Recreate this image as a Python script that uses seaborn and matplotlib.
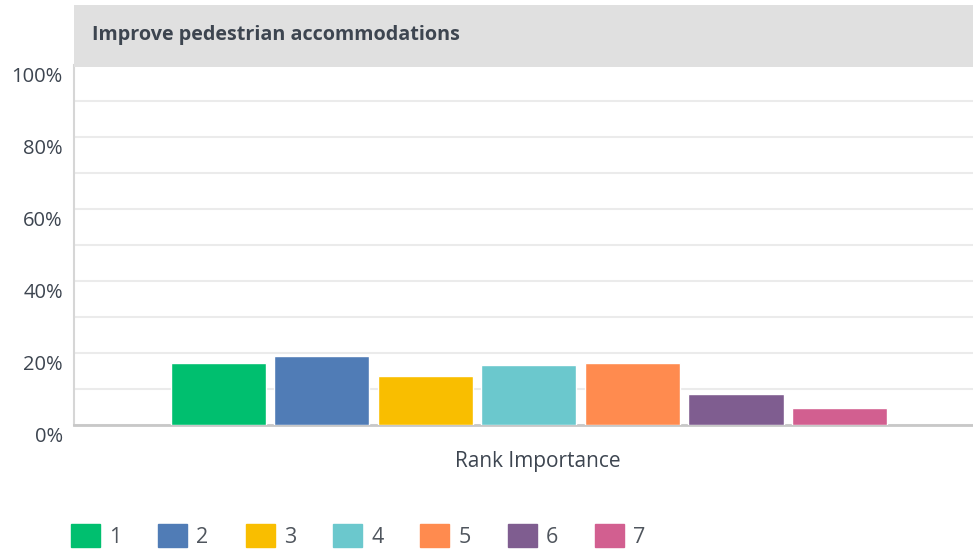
import matplotlib
matplotlib.use("Agg")
import matplotlib.pyplot as plt
import matplotlib.transforms as mtransforms
from matplotlib.patches import Patch, Rectangle
from matplotlib.ticker import MultipleLocator, FuncFormatter
import pandas as pd
import seaborn as sns

# ── Data ─────────────────────────────────────────────────────────────────────
title = "Improve pedestrian accommodations"
x_label = "Rank Importance"
ranks = ["1", "2", "3", "4", "5", "6", "7"]
shares = [17.2, 19.2, 13.6, 16.7, 17.2, 8.6, 4.7]
colors = ["#00BF6F", "#507CB6", "#F9BE00", "#6BC8CD", "#FF8B4F", "#7F5D90", "#D25F90"]
y_ticks = [0, 20, 40, 60, 80, 100]

df = pd.DataFrame({"group": [x_label] * len(ranks), "rank": ranks, "share": shares})

sns.set_theme(style="white")
plt.rcParams["font.family"] = ["Open Sans", "DejaVu Sans"]
text_col = "#3d4550"

W, H = 973, 552
fig = plt.figure(figsize=(W / 100, H / 100), dpi=100)
ax = fig.add_axes([74 / W, 1 - 425 / H, (973 - 74) / W, (425 - 65) / H])

sns.barplot(data=df, x="group", y="share", hue="rank", hue_order=ranks,
            palette=colors, width=0.806, gap=0.082, saturation=1,
            legend=False, ax=ax, zorder=3)

# group sits a few pixels right of the axes centre in the reference
ax.set_xlim(-0.5061, 0.4939)
ax.set_ylim(0, 100)
ax.set_yticks(y_ticks)
ax.yaxis.set_minor_locator(MultipleLocator(10))
ax.yaxis.set_major_formatter(FuncFormatter(lambda v, p: f"{v:.0f}%"))
ax.grid(axis="y", which="both", color="#ebebeb", linewidth=1.5, zorder=0)
ax.set_axisbelow(True)
ax.set_xticks([])
ax.set_xlabel("")
ax.set_ylabel("")
ax.tick_params(axis="y", which="both", length=0, pad=8, labelsize=14.5, labelcolor=text_col)
off = mtransforms.ScaledTranslation(0, -0.09, fig.dpi_scale_trans)
for lab in ax.get_yticklabels():
    lab.set_transform(lab.get_transform() + off)

for s in ["top", "right"]:
    ax.spines[s].set_visible(False)
ax.spines["left"].set_color("#d6d6d6")
ax.spines["left"].set_linewidth(1.5)
ax.spines["bottom"].set_color("#c8c8c8")
ax.spines["bottom"].set_linewidth(2)

# header band with title
fig.patches.append(Rectangle((74 / W, 1 - 67 / H), (973 - 74) / W, 62 / H,
                             transform=fig.transFigure, facecolor="#e0e0e0",
                             edgecolor="none", zorder=3))
fig.text(92 / W, 1 - 35 / H, title, fontsize=14.2, fontweight="bold",
         color=text_col, va="center", ha="left", zorder=4)

fig.text(538 / W, 1 - 462 / H, x_label, fontsize=15, color=text_col,
         ha="center", va="center")

handles = [Patch(facecolor=c, edgecolor=c, linewidth=1, joinstyle="round") for c in colors]
fig.legend(handles, ranks, loc="center left", bbox_to_anchor=(71 / W, 1 - 536 / H),
           ncol=7, frameon=False, fontsize=15.5, labelcolor="#4f555d",
           handlelength=1.35, handleheight=1.3, handletextpad=0.42,
           columnspacing=1.72, borderpad=0, borderaxespad=0)

fig.savefig("out.png", dpi=100)
